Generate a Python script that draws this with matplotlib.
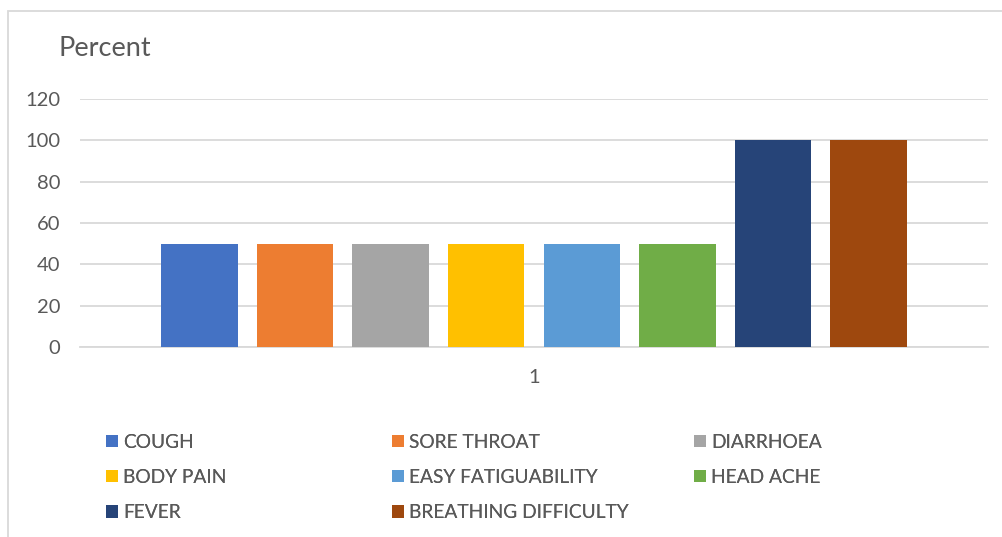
import matplotlib
matplotlib.use("Agg")
import matplotlib.pyplot as plt
from matplotlib.patches import Rectangle

plt.rcParams['font.family'] = ['Lato', 'DejaVu Sans']

symptoms = ['COUGH', 'SORE THROAT', 'DIARRHOEA', 'BODY PAIN',
            'EASY FATIGUABILITY', 'HEAD ACHE', 'FEVER', 'BREATHING DIFFICULTY']
percent = [50, 50, 50, 50, 50, 50, 100, 100]
colors = ['#4472C4', '#ED7D31', '#A5A5A5', '#FFC000',
          '#5B9BD5', '#70AD47', '#264478', '#9E480E']
yticks = [0, 20, 40, 60, 80, 100, 120]
group_label = '1'

txt = '#595959'
grid = '#D9D9D9'

fig = plt.figure(figsize=(10.03, 5.37), dpi=100)
ax = fig.add_axes([80/1003, 1-347/537, 908/1003, 248/537])

n = len(symptoms)
bars = []
for i in range(n):
    b = ax.bar(i - (n-1)/2, percent[i], width=0.8, color=colors[i], label=symptoms[i], zorder=3)
    bars.append(b)

ax.set_xlim(-4.75, 4.75)
ax.set_ylim(0, 120)
ax.set_yticks(yticks)
ax.set_xticks([0])
ax.set_xticklabels([group_label])
ax.grid(axis='y', color=grid, linewidth=1.3, zorder=0)
for s in ['top', 'right', 'left']:
    ax.spines[s].set_visible(False)
ax.spines['bottom'].set_color(grid)
ax.spines['bottom'].set_linewidth(1.3)
ax.tick_params(axis='both', length=0, labelsize=14.5, labelcolor=txt)
ax.tick_params(axis='y', pad=14)
ax.tick_params(axis='x', pad=16)

fig.text(59/1003, 1-48/537, 'Percent', fontsize=19.5, color=txt, va='center', ha='left')

# legend laid out in rows of three, like Excel; one legend per column
col_x = [98, 384, 686]
for c in range(3):
    idx = list(range(c, n, 3))
    leg = fig.legend([bars[i] for i in idx], [symptoms[i] for i in idx],
                     loc='upper left', bbox_to_anchor=(col_x[c]/1003, 1-426/537),
                     frameon=False, fontsize=13.8, labelcolor=txt,
                     handlelength=0.62, handleheight=0.62, handletextpad=0.3,
                     labelspacing=0.95, borderaxespad=0, borderpad=0.4)
    fig.add_artist(leg)

fig.add_artist(Rectangle((8/1003, -0.5), 2, 0.5 + 1 - 11/537, transform=fig.transFigure,
                         facecolor='none', edgecolor=grid, linewidth=1.3))

fig.savefig('out.png', dpi=100)
